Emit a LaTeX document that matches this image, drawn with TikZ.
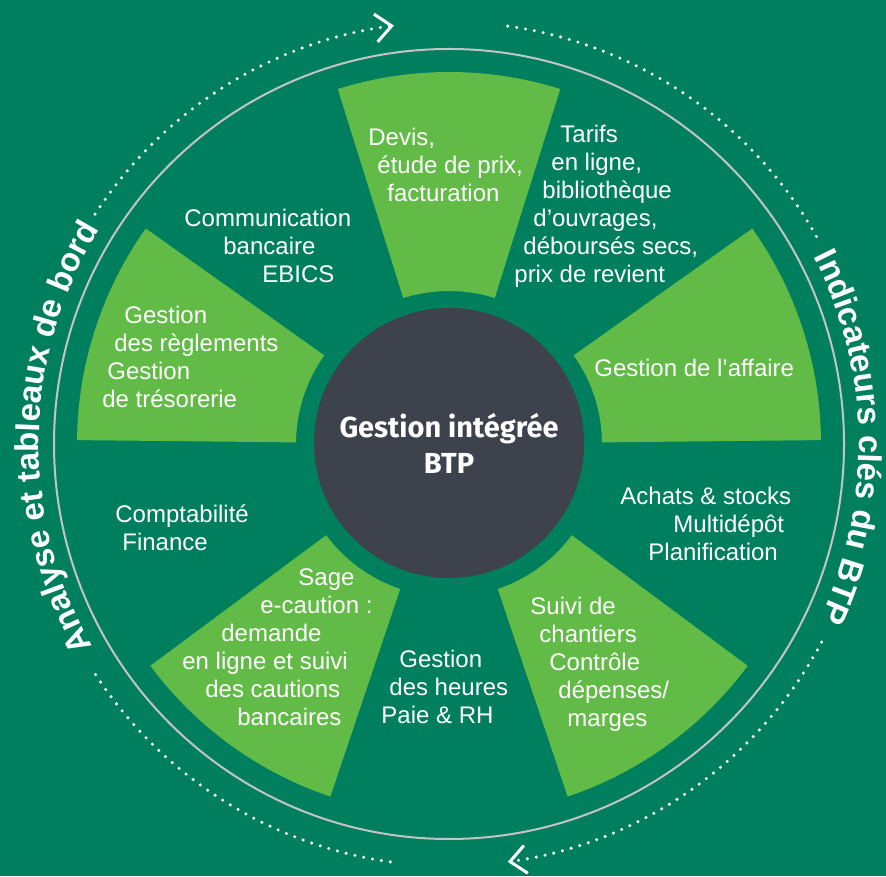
\documentclass[tikz,border=0pt]{standalone}
\usepackage{xcolor}
\usepackage{fontspec}
\setmainfont{Liberation Sans}
\newfontfamily\hubfont{Fira Sans}
\usepackage{tikz}
\usetikzlibrary{arrows.meta}
\usetikzlibrary{decorations.text}
\definecolor{bggreen}{RGB}{0,127,95}
\definecolor{wedgegreen}{RGB}{98,187,70}
\definecolor{hubgrey}{RGB}{61,66,77}
\definecolor{ringgrey}{RGB}{196,196,200}
\newcommand{\ringfont}{\fontsize{16.5}{20}\selectfont\bfseries}
\tikzset{>={Straight Barb[length=8pt,width=14pt,line width=1.5pt]}}
\tikzstyle{blurb} = [draw=none, inner sep=0, text=white, align=left, anchor=base west, font=\fontsize{12}{14}\selectfont]
\tikzstyle{dotarc} = [draw=white, line width=1.7pt, line cap=round, dash pattern=on 0pt off 4.5pt]
\tikzstyle{ringtext} = [decorate, decoration={text along path, text align=center, text color=white}]

\begin{document}
\begin{tikzpicture}[x=0.5pt, y=0.5pt]
\useasboundingbox (0,0) rectangle (886,876);
\fill[bggreen] (0,0) rectangle (886,876);
\coordinate (C) at (449,432);
\begin{scope}[shift={(C)}]
\foreach \a in {90,18,162,234,306} {
  \pgfmathsetmacro\lo{\a-17.4}
  \pgfmathsetmacro\hi{\a+17.4}
  \fill[wedgegreen] (\lo:153) arc[start angle=\lo, end angle=\hi, radius=153]
    -- (\hi:372) arc[start angle=\hi, end angle=\lo, radius=372] -- cycle;
}
\draw[ringgrey, line width=1pt] (0,0) circle[radius=395];
% outer arrows and titles
\draw[dotarc] (262:422) arc[start angle=262, end angle=212, radius=422];
\draw[dotarc, ->] (147:422) arc[start angle=147, end angle=97.5, radius=422];
\draw[dotarc] (82:422) arc[start angle=82, end angle=29, radius=422];
\draw[dotarc, ->] (-28:422) arc[start angle=-28, end angle=-82, radius=422];
\path[ringtext, decoration={text={|\ringfont|Analyse et tableaux de bord}}] (229:410) arc[start angle=229, end angle=129, radius=410];
\path[ringtext, decoration={text={|\ringfont|Indicateurs clés du BTP}}] (51:410) arc[start angle=51, end angle=-49, radius=410];
\end{scope}
\node[circle, fill=hubgrey, minimum size=135pt, inner sep=0, text=white, align=center, font=\hubfont\fontsize{14.5}{18}\selectfont\bfseries] (hub) at (449,433) {Gestion intégrée\\BTP};
\node[blurb] (devis) at (368,674) {Devis,\\\hspace*{4.5pt}étude de prix,\\\hspace*{9.5pt}facturation};
\node[blurb] (tarifs) at (514,593) {\hspace*{23pt}Tarifs\\\hspace*{18.5pt}en ligne,\\\hspace*{14pt}bibliothèque\\\hspace*{9.5pt}d’ouvrages,\\\hspace*{4.5pt}déboursés secs,\\prix de revient};
\node[blurb] (ebics) at (184,593) {Communication\\\hspace*{19.5pt}bancaire\\\hspace*{39pt}EBICS};
\node[blurb] (reglements) at (102,468) {\hspace*{11pt}Gestion\\\hspace*{6pt}des règlements\\\hspace*{2.5pt}Gestion\\de trésorerie};
\node[blurb] (affaire) at (594,499) {Gestion de l’affaire};
\node[blurb] (achats) at (620,315) {Achats \& stocks\\\hspace*{26.5pt}Multidépôt\\\hspace*{14pt}Planification};
\node[blurb] (compta) at (115,325) {Comptabilité\\\hspace*{3.5pt}Finance};
\node[blurb] (caution) at (182,150) {\hspace*{58pt}Sage\\\hspace*{39pt}e-caution :\\\hspace*{19.5pt}demande\\en ligne et suivi\\\hspace*{11.5pt}des cautions\\\hspace*{27.5pt}bancaires};
\node[blurb] (heures) at (381,152) {\hspace*{9pt}Gestion\\\hspace*{4pt}des heures\\Paie \& RH};
\node[blurb] (chantiers) at (530,149) {Suivi de\\\hspace*{4.5pt}chantiers\\\hspace*{9.5pt}Contrôle\\\hspace*{14pt}dépenses/\\\hspace*{18.5pt}marges};
\end{tikzpicture}
\end{document}
